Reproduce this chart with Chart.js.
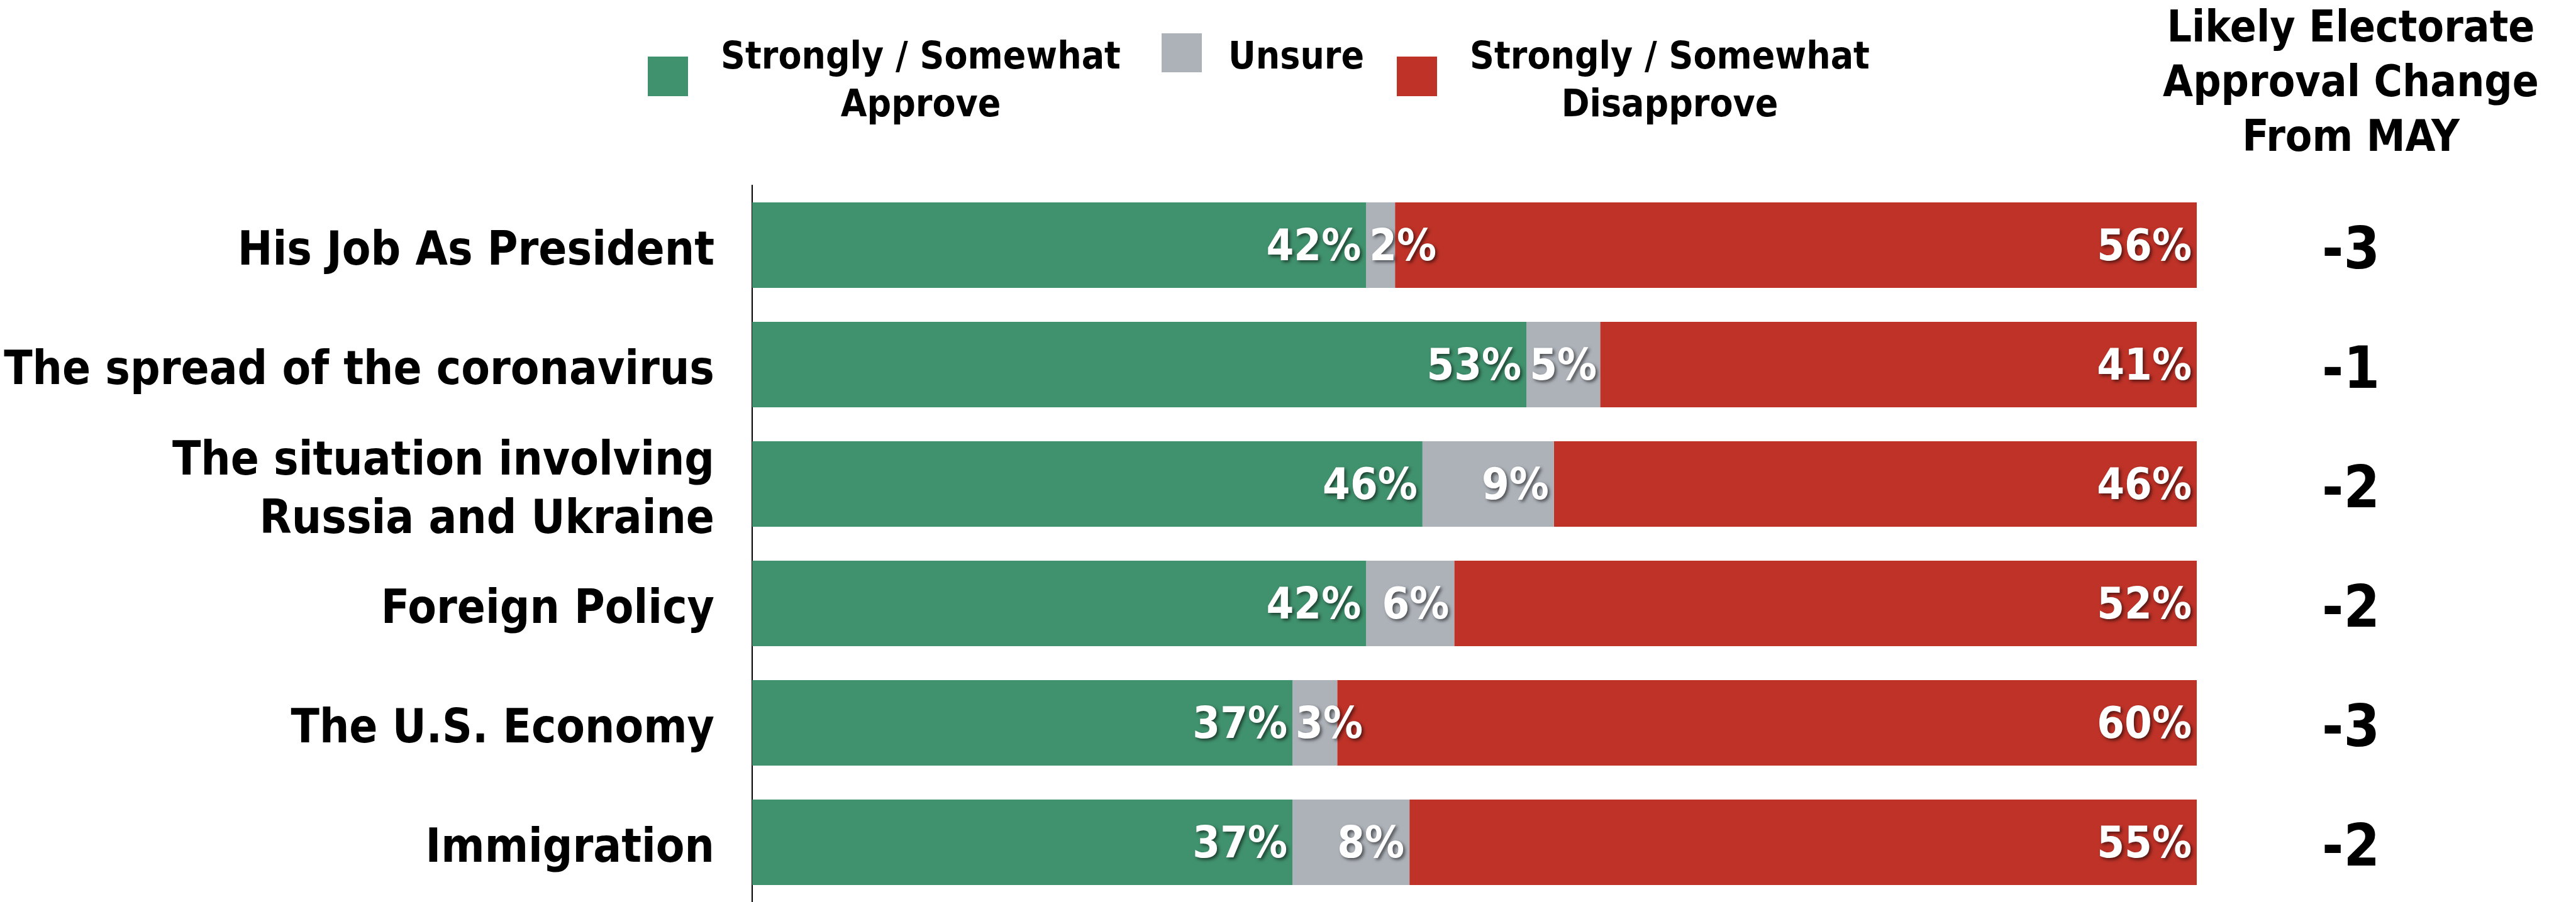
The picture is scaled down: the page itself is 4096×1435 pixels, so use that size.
<!DOCTYPE html>
<html>
<head>
<meta charset="utf-8">
<title>Approval</title>
<script src="https://cdn.jsdelivr.net/npm/chart.js@4.4.1/dist/chart.umd.min.js"></script>
<style>
  html, body { margin: 0; padding: 0; background: #ffffff; overflow: hidden; }
  canvas { display: block; }
</style>
</head>
<body>
<canvas id="approvalChart" width="4096" height="1435"></canvas>
<script>
// ===== DATA =====
const categories = [
  "His Job As President",
  "The spread of the coronavirus",
  ["The situation involving", "Russia and Ukraine"],
  "Foreign Policy",
  "The U.S. Economy",
  "Immigration",
];
// bar lengths (%)
const approve = [42.5, 53.6, 46.4, 42.5, 37.4, 37.4];
const unsure = [2.0, 5.1, 9.1, 6.1, 3.1, 8.1];
const disapprove = [55.5, 41.3, 44.5, 51.4, 59.5, 54.5];
// printed percentages
const approveText = [42, 53, 46, 42, 37, 37];
const unsureText = [2, 5, 9, 6, 3, 8];
const disapproveText = [56, 41, 46, 52, 60, 55];
// right column
const changeFromMay = ["-3", "-1", "-2", "-2", "-3", "-2"];

const legendNames = [["Strongly / Somewhat", "Approve"], ["Unsure"], ["Strongly / Somewhat", "Disapprove"]];
const headerLines = ["Likely Electorate", "Approval Change", "From MAY"];

const GREEN = "#40916d";
const GREY = "#adb2b9";
const RED = "#be3228";
const FONT = '"DejaVu Sans Condensed", "DejaVu Sans", sans-serif';

// ===== plugin: labels inside the bar segments =====
const segmentLabels = {
  id: "segmentLabels",
  afterDatasetsDraw(chart) {
    const ctx = chart.ctx;
    const texts = [approveText, unsureText, disapproveText];
    ctx.save();
    ctx.font = "bold 70px " + FONT;
    ctx.textBaseline = "middle";
    ctx.fillStyle = "#ffffff";
    ctx.shadowColor = "rgba(0,0,0,0.55)";
    ctx.shadowBlur = 5;
    ctx.shadowOffsetX = 3;
    ctx.shadowOffsetY = 3;
    chart.data.datasets.forEach((ds, d) => {
      const meta = chart.getDatasetMeta(d);
      meta.data.forEach((bar, i) => {
        const label = texts[d][i] + "%";
        const w = ctx.measureText(label).width;
        const left = Math.min(bar.base, bar.x);
        const right = Math.max(bar.base, bar.x);
        if (w + 14 <= right - left) {
          ctx.textAlign = "right";
          ctx.fillText(label, right - 8, bar.y + 6);
        } else {
          ctx.textAlign = "left";
          ctx.fillText(label, left + 5, bar.y + 6);
        }
      });
    });
    ctx.restore();
  },
};

// ===== plugin: legend, right header, change column =====
const extras = {
  id: "extras",
  afterDraw(chart) {
    const ctx = chart.ctx;
    const yScale = chart.scales.y;
    ctx.save();

    // legend
    ctx.fillStyle = GREEN;
    ctx.fillRect(1030, 90, 64, 63);
    ctx.fillStyle = GREY;
    ctx.fillRect(1847, 53, 64, 62);
    ctx.fillStyle = RED;
    ctx.fillRect(2221, 90, 64, 63);

    ctx.fillStyle = "#000000";
    ctx.font = "bold 60px " + FONT;
    ctx.textBaseline = "alphabetic";
    ctx.textAlign = "center";
    ctx.fillText(legendNames[0][0], 1464, 109);
    ctx.fillText(legendNames[0][1], 1464, 185);
    ctx.textAlign = "left";
    ctx.fillText(legendNames[1][0], 1953, 109);
    ctx.textAlign = "center";
    ctx.fillText(legendNames[2][0], 2655, 109);
    ctx.fillText(legendNames[2][1], 2655, 185);

    // header on the right
    ctx.font = "bold 69px " + FONT;
    headerLines.forEach((line, k) => {
      ctx.fillText(line, 3738, 66 + k * 87);
    });

    // change values
    ctx.font = "bold 92px " + FONT;
    ctx.textBaseline = "middle";
    changeFromMay.forEach((v, i) => {
      ctx.fillText(v, 3738, yScale.getPixelForValue(i) + 13);
    });
    ctx.restore();
  },
};

const ctx = document.getElementById("approvalChart").getContext("2d");
const myChart = new Chart(ctx, {
  type: "bar",
  data: {
    labels: categories,
    datasets: [
      { label: "Strongly / Somewhat Approve", data: approve, backgroundColor: GREEN },
      { label: "Unsure", data: unsure, backgroundColor: GREY },
      { label: "Strongly / Somewhat Disapprove", data: disapprove, backgroundColor: RED },
    ],
  },
  options: {
    indexAxis: "y",
    responsive: false,
    animation: false,
    devicePixelRatio: 1,
    layout: { padding: { top: 295, right: 603, bottom: 0, left: 0 } },
    datasets: {
      bar: { categoryPercentage: 1, barPercentage: 0.716, borderWidth: 0 },
    },
    plugins: {
      legend: { display: false },
      tooltip: { enabled: false },
    },
    scales: {
      x: {
        stacked: true,
        min: 0,
        max: 100,
        display: false,
      },
      y: {
        stacked: true,
        grid: { display: false, drawTicks: false },
        border: { display: true, color: "#000000", width: 2 },
        ticks: {
          color: "#000000",
          font: { family: FONT, size: 74, weight: "bold", lineHeight: 1.26 },
          padding: 60,
          labelOffset: 12,
        },
        afterFit(scale) {
          scale.width = 1196;
          scale.paddingTop = 0;
          scale.paddingBottom = 0;
        },
      },
    },
  },
  plugins: [segmentLabels, extras],
});
</script>
</body>
</html>
